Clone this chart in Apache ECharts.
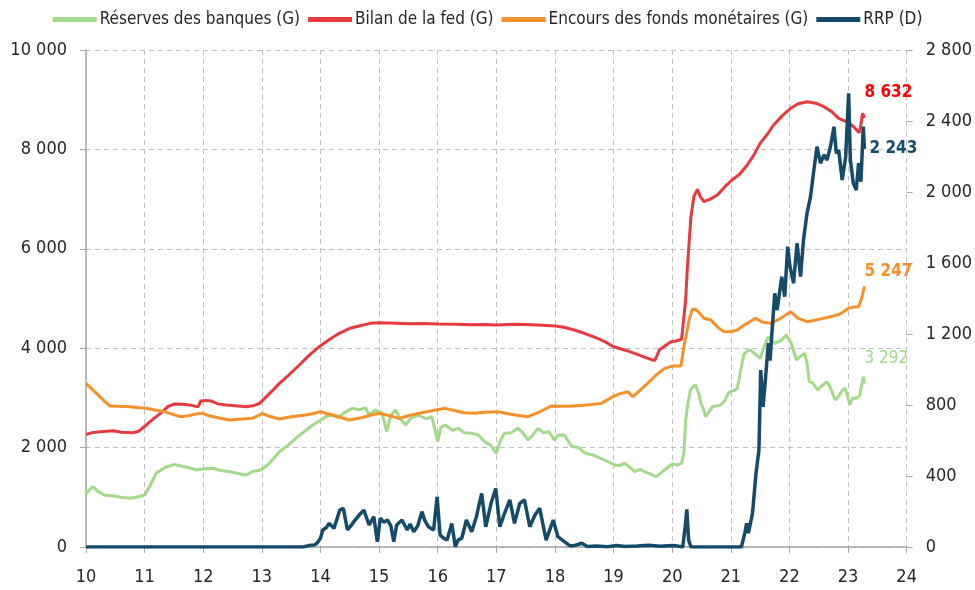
<!DOCTYPE html>
<html>
<head>
<meta charset="utf-8">
<script src="https://cdn.jsdelivr.net/npm/echarts@6/dist/echarts.min.js"></script>
<style>
  html,body{margin:0;padding:0;background:#fff;}
  #chart_wrap{width:975px;height:590px;}
</style>
</head>
<body>
<div id="chart_wrap"></div>
<script>
// [année, valeur]
var seriesNames=['Réserves des banques (G)','Bilan de la fed (G)','Encours des fonds monétaires (G)','RRP (D)'];
var seriesColors=['#A3D98A','#E63A3F','#F5902A','#154A68'];

var reserves=[[10.0,1070],[10.06,1150],[10.12,1213],[10.2,1120],[10.31,1046],[10.45,1030],[10.6,1000],[10.75,980],[10.9,1010],[11.0,1046],[11.1,1250],[11.2,1490],[11.35,1600],[11.51,1663],[11.65,1620],[11.75,1600],[11.88,1550],[12.0,1570],[12.16,1583],[12.3,1540],[12.45,1516],[12.6,1480],[12.73,1449],[12.85,1520],[12.98,1550],[13.1,1650],[13.2,1780],[13.3,1918],[13.45,2050],[13.58,2187],[13.7,2300],[13.87,2455],[14.0,2550],[14.09,2622],[14.2,2656],[14.3,2600],[14.4,2700],[14.54,2790],[14.65,2760],[14.77,2800],[14.83,2656],[14.94,2756],[15.05,2700],[15.13,2320],[15.2,2650],[15.28,2756],[15.35,2600],[15.45,2455],[15.55,2600],[15.67,2656],[15.8,2580],[15.9,2620],[16.0,2120],[16.05,2400],[16.13,2455],[16.25,2350],[16.35,2388],[16.45,2300],[16.58,2287],[16.7,2250],[16.8,2120],[16.9,2050],[17.0,1885],[17.07,2150],[17.14,2287],[17.25,2300],[17.37,2388],[17.45,2300],[17.54,2153],[17.62,2250],[17.71,2388],[17.8,2300],[17.9,2320],[17.99,2153],[18.05,2250],[18.16,2253],[18.29,2020],[18.4,2000],[18.52,1885],[18.65,1850],[18.75,1800],[18.85,1750],[19.02,1650],[19.1,1640],[19.19,1684],[19.28,1600],[19.36,1516],[19.45,1560],[19.53,1516],[19.62,1470],[19.73,1415],[19.8,1480],[19.87,1550],[20.0,1670],[20.08,1650],[20.16,1684],[20.2,1900],[20.23,2555],[20.27,2900],[20.31,3160],[20.36,3230],[20.4,3260],[20.45,3100],[20.49,2890],[20.52,2823],[20.57,2620],[20.6,2620],[20.65,2760],[20.69,2823],[20.76,2840],[20.83,2857],[20.9,2950],[20.96,3100],[21.0,3125],[21.06,3150],[21.11,3193],[21.16,3500],[21.22,3863],[21.28,3950],[21.33,3964],[21.4,3900],[21.45,3850],[21.5,3797],[21.56,4000],[21.64,4232],[21.7,4150],[21.75,4098],[21.85,4150],[21.95,4266],[22.03,4100],[22.12,3763],[22.2,3850],[22.26,3897],[22.3,3700],[22.34,3326],[22.4,3300],[22.48,3159],[22.56,3250],[22.64,3326],[22.7,3200],[22.78,2958],[22.85,3050],[22.9,3150],[22.95,3193],[23.0,3000],[23.03,2857],[23.08,3000],[23.15,2992],[23.2,3050],[23.24,3300],[23.26,3427],[23.28,3292]];

var bilanFed=[[10.0,2260],[10.1,2300],[10.24,2320],[10.35,2330],[10.46,2340],[10.6,2310],[10.8,2300],[10.9,2330],[11.03,2455],[11.15,2580],[11.31,2723],[11.4,2830],[11.51,2877],[11.65,2870],[11.8,2850],[11.91,2823],[11.96,2938],[12.05,2950],[12.13,2938],[12.25,2880],[12.39,2857],[12.55,2840],[12.73,2823],[12.85,2840],[12.96,2890],[13.1,3050],[13.2,3170],[13.3,3293],[13.45,3450],[13.64,3662],[13.8,3850],[13.98,4030],[14.12,4151],[14.32,4299],[14.5,4400],[14.66,4447],[14.85,4500],[15.0,4513],[15.3,4500],[15.5,4490],[15.75,4495],[16.0,4487],[16.3,4480],[16.6,4470],[16.8,4475],[17.0,4467],[17.3,4480],[17.6,4470],[17.8,4460],[18.0,4447],[18.15,4420],[18.33,4366],[18.5,4300],[18.73,4199],[18.87,4120],[19.0,4030],[19.2,3960],[19.36,3897],[19.55,3810],[19.7,3749],[19.74,3850],[19.78,3964],[19.88,4050],[19.98,4131],[20.05,4140],[20.16,4179],[20.2,4634],[20.23,4970],[20.26,5640],[20.32,6646],[20.37,7048],[20.43,7196],[20.48,7050],[20.54,6948],[20.65,7000],[20.77,7082],[20.9,7250],[21.02,7384],[21.15,7500],[21.28,7686],[21.4,7900],[21.5,8122],[21.62,8300],[21.73,8491],[21.88,8680],[22.02,8827],[22.15,8920],[22.3,8960],[22.45,8930],[22.59,8859],[22.72,8760],[22.84,8626],[22.95,8570],[23.03,8525],[23.1,8450],[23.19,8336],[23.22,8500],[23.25,8726],[23.28,8632]];

var fondsMonetaires=[[10.0,3293],[10.08,3200],[10.18,3092],[10.3,2950],[10.41,2837],[10.55,2830],[10.75,2823],[10.9,2800],[11.03,2790],[11.2,2750],[11.35,2720],[11.43,2690],[11.6,2622],[11.75,2640],[11.85,2670],[11.99,2690],[12.1,2640],[12.25,2600],[12.45,2555],[12.6,2570],[12.84,2589],[13.01,2690],[13.1,2640],[13.3,2575],[13.5,2620],[13.75,2656],[13.9,2690],[14.0,2723],[14.09,2690],[14.25,2640],[14.49,2555],[14.7,2600],[14.85,2650],[15.0,2690],[15.15,2650],[15.34,2589],[15.5,2640],[15.68,2690],[15.9,2740],[16.13,2790],[16.3,2740],[16.45,2700],[16.64,2690],[16.8,2710],[17.03,2723],[17.2,2680],[17.35,2650],[17.54,2622],[17.7,2700],[17.94,2837],[18.1,2830],[18.29,2837],[18.5,2850],[18.79,2890],[18.99,3024],[19.1,3080],[19.24,3125],[19.33,3024],[19.45,3150],[19.58,3293],[19.72,3450],[19.87,3595],[20.0,3640],[20.15,3642],[20.2,4030],[20.29,4567],[20.34,4780],[20.4,4783],[20.47,4700],[20.54,4601],[20.66,4567],[20.77,4430],[20.88,4333],[21.0,4330],[21.11,4366],[21.25,4480],[21.42,4601],[21.55,4520],[21.68,4500],[21.85,4600],[22.02,4735],[22.15,4600],[22.3,4533],[22.5,4580],[22.7,4634],[22.85,4680],[23.01,4802],[23.1,4830],[23.18,4835],[23.23,5000],[23.28,5247]];

var rrp=[[10.0,0],[13.7,0],[13.8,8],[13.9,12],[13.95,25],[14.0,50],[14.04,96],[14.1,110],[14.15,133],[14.23,105],[14.33,208],[14.39,218],[14.46,96],[14.52,120],[14.57,143],[14.66,180],[14.74,208],[14.83,124],[14.91,171],[14.97,30],[15.02,162],[15.08,140],[15.14,152],[15.2,120],[15.25,30],[15.3,124],[15.39,152],[15.48,96],[15.53,130],[15.59,86],[15.66,120],[15.73,199],[15.78,150],[15.84,114],[15.93,96],[15.99,283],[16.04,68],[16.1,50],[16.16,39],[16.24,133],[16.3,2],[16.35,40],[16.41,49],[16.49,152],[16.58,86],[16.66,171],[16.75,302],[16.82,114],[16.91,246],[16.99,330],[17.06,114],[17.14,190],[17.23,265],[17.31,133],[17.4,246],[17.48,265],[17.57,114],[17.66,180],[17.74,218],[17.85,39],[17.97,152],[18.05,58],[18.16,30],[18.26,6],[18.35,10],[18.46,21],[18.55,3],[18.7,5],[18.9,2],[19.05,8],[19.2,3],[19.4,6],[19.6,10],[19.8,4],[20.0,8],[20.1,5],[20.18,0],[20.22,110],[20.25,212],[20.28,40],[20.32,0],[21.18,0],[21.24,80],[21.27,133],[21.3,78],[21.37,190],[21.43,415],[21.48,546],[21.51,997],[21.55,790],[21.59,941],[21.64,1148],[21.67,1050],[21.7,1200],[21.75,1429],[21.79,1335],[21.87,1523],[21.92,1410],[21.97,1692],[22.01,1579],[22.07,1486],[22.13,1711],[22.16,1617],[22.19,1523],[22.24,1730],[22.3,1880],[22.36,1974],[22.41,2105],[22.47,2255],[22.53,2162],[22.59,2209],[22.64,2180],[22.7,2255],[22.76,2368],[22.8,2218],[22.84,2237],[22.9,2068],[22.96,2199],[23.01,2556],[23.04,2180],[23.09,2049],[23.14,2011],[23.18,2162],[23.22,2058],[23.26,2368],[23.28,2243]];

var fontNarrow="'Liberation Sans Narrow','DejaVu Sans Condensed',sans-serif";

// 10000 -> "10 000"
var fmtNum=function(v){
  return String(Math.round(v)).replace(/\B(?=(\d{3})+(?!\d))/g,' ');
};

var makeSeries=function(i,data,yIdx,width,label){
  return {
    name:seriesNames[i],
    type:'line',
    yAxisIndex:yIdx,
    data:data,
    showSymbol:false,
    symbol:'none',
    animation:false,
    lineStyle:{color:seriesColors[i],width:width},
    itemStyle:{color:seriesColors[i]},
    endLabel:{
      show:true,
      formatter:function(p){return fmtNum(p.value[1]);},
      color:label.color,
      fontFamily:fontNarrow,
      fontSize:17,
      fontWeight:label.weight,
      offset:label.offset
    }
  };
};

var objChart=echarts.init(document.getElementById('chart_wrap'));
var option={
  backgroundColor:'#fff',
  legend:{
    top:6,
    left:'center',
    icon:'rect',
    itemWidth:44,
    itemHeight:5,
    itemGap:8,
    textStyle:{fontFamily:fontNarrow,fontSize:17,color:'#262626',padding:[0,0,0,-2]},
    data:seriesNames
  },
  grid:{left:86,right:65,top:50,bottom:43},
  xAxis:{
    type:'value',
    min:10,max:24,interval:1,
    axisLine:{lineStyle:{color:'#A6A6A6',width:1.5}},
    axisTick:{show:true,length:6,lineStyle:{color:'#A6A6A6'}},
    axisLabel:{fontFamily:fontNarrow,fontSize:18,color:'#262626',margin:21},
    splitLine:{show:true,lineStyle:{color:'#BFBFBF',type:[5,4],width:1}}
  },
  yAxis:[
    {
      type:'value',
      min:0,max:10000,interval:2000,
      axisLine:{show:true,lineStyle:{color:'#A6A6A6',width:1.5}},
      axisTick:{show:true,length:6,lineStyle:{color:'#A6A6A6'}},
      axisLabel:{fontFamily:fontNarrow,fontSize:18,color:'#262626',margin:19,formatter:fmtNum},
      splitLine:{show:true,lineStyle:{color:'#BFBFBF',type:[5,4],width:1}}
    },
    {
      type:'value',
      min:0,max:2800,interval:400,
      position:'right',
      axisLine:{show:false},
      axisTick:{show:true,length:6,lineStyle:{color:'#A6A6A6'}},
      axisLabel:{fontFamily:fontNarrow,fontSize:18,color:'#262626',margin:19,formatter:fmtNum},
      splitLine:{show:false}
    }
  ],
  series:[
    makeSeries(0,reserves,0,3,{color:'#A3D98A',weight:'normal',offset:[-8,-25]}),
    makeSeries(1,bilanFed,0,3,{color:'#FF0000',weight:'bold',offset:[-8,-25]}),
    makeSeries(2,fondsMonetaires,0,3,{color:'#F5902A',weight:'bold',offset:[-8,-15]}),
    makeSeries(3,rrp,1,3.5,{color:'#154A68',weight:'bold',offset:[-3,0]})
  ]
};
objChart.setOption(option);
</script>
</body>
</html>
